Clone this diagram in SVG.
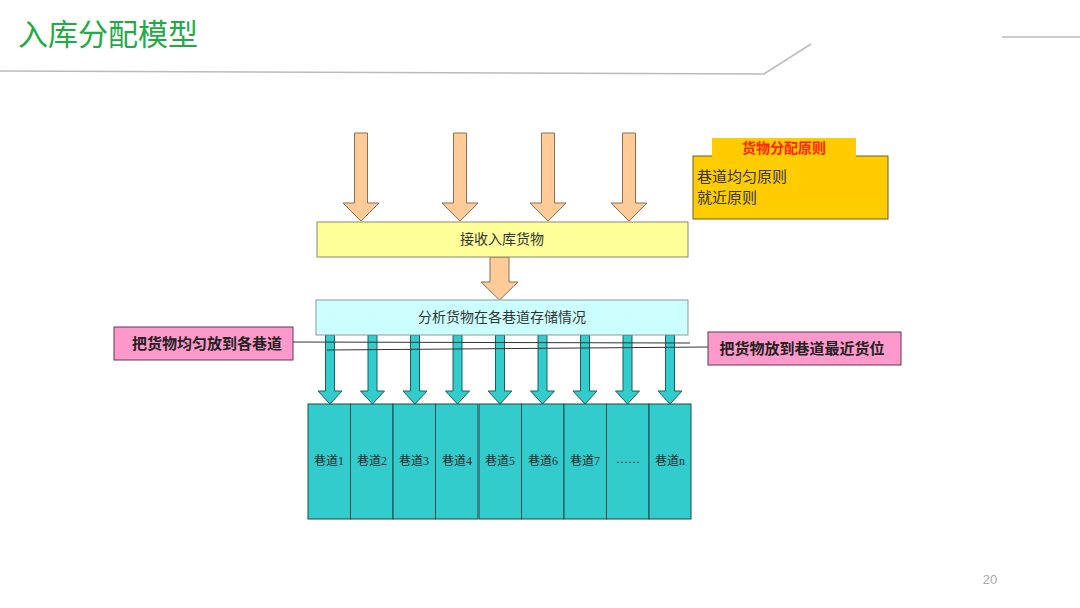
<svg xmlns="http://www.w3.org/2000/svg" xmlns:xlink="http://www.w3.org/1999/xlink" width="1080" height="608" viewBox="0 0 1080 608">
<style>
.serif{font-family:"Liberation Serif","Noto Sans CJK SC",serif;}
.orange{fill:#FFCC99;stroke:#8C6E55;stroke-width:1;}
.teal{fill:#33CCCC;stroke:#1E5E5E;stroke-width:1;}
.lane{fill:#33CCCC;stroke:#1E4A4A;stroke-width:1;}
.lanetxt{font-size:12px;fill:#2A2A2A;text-anchor:middle;}
.pink{fill:#FF99CC;stroke:#5A3A50;stroke-width:1;}
.pinktxt{font-size:15px;font-weight:bold;fill:#222;text-anchor:middle;}
.hdr{fill:none;stroke:#BBBBBB;stroke-width:1.5;}
</style>
<defs>
<path id="oarrow" d="M-6.5,133 H6.5 V203 H18 L0,221 L-18,203 H-6.5 Z"/>
<path id="tarrow" d="M-4.5,335 H4.5 V391 H12 L0,404 L-12,391 H-4.5 Z"/>
</defs>
<rect width="1080" height="608" fill="#FFFFFF"/>
<g id="header">
<text x="18" y="45" font-family="'Noto Sans CJK SC','Noto Sans',sans-serif" font-size="30" fill="#22AA44">入库分配模型</text>
<polyline class="hdr" points="0,71 764,74 811,44"/>
<line class="hdr" x1="1002" y1="37" x2="1080" y2="37"/>
<text x="990" y="584" font-family="'Liberation Sans',sans-serif" font-size="13" fill="#AAAAAA" text-anchor="middle">20</text>
</g>
<g id="connectors">
<use xlink:href="#oarrow" class="orange" transform="translate(361,0)"/>
<use xlink:href="#oarrow" class="orange" transform="translate(460,0)"/>
<use xlink:href="#oarrow" class="orange" transform="translate(548,0)"/>
<use xlink:href="#oarrow" class="orange" transform="translate(629,0)"/>
<path class="orange" d="M490,257 H509 V282 H518 L499.5,300 L481,282 H490 Z"/>
<use xlink:href="#tarrow" class="teal" transform="translate(330,0)"/>
<use xlink:href="#tarrow" class="teal" transform="translate(372.5,0)"/>
<use xlink:href="#tarrow" class="teal" transform="translate(415,0)"/>
<use xlink:href="#tarrow" class="teal" transform="translate(457.5,0)"/>
<use xlink:href="#tarrow" class="teal" transform="translate(500,0)"/>
<use xlink:href="#tarrow" class="teal" transform="translate(542.5,0)"/>
<use xlink:href="#tarrow" class="teal" transform="translate(585,0)"/>
<use xlink:href="#tarrow" class="teal" transform="translate(627.5,0)"/>
<use xlink:href="#tarrow" class="teal" transform="translate(670,0)"/>
<line x1="293" y1="342" x2="690" y2="343" stroke="#333" stroke-width="1"/>
<line x1="327" y1="350" x2="708" y2="347" stroke="#333" stroke-width="1"/>
</g>
<g id="receive">
<rect x="317" y="222" width="371" height="35" fill="#FFFF99" stroke="#8A8A6A" stroke-width="1"/>
<text class="serif" x="502" y="244" font-size="14" fill="#333" text-anchor="middle">接收入库货物</text>
</g>
<g id="analyze">
<rect x="316" y="300" width="372" height="35" fill="#CCFFFF" stroke="#8A9A9A" stroke-width="1"/>
<text class="serif" x="502" y="322" font-size="14" fill="#333" text-anchor="middle">分析货物在各巷道存储情况</text>
</g>
<g id="principles">
<rect x="693" y="156" width="195" height="63" fill="#FFCC00" stroke="#6E5E1E" stroke-width="1"/>
<rect x="712" y="138" width="144" height="19" fill="#FFCC00"/>
<text class="serif" x="784" y="153" font-size="14" font-weight="bold" fill="#FF2200" text-anchor="middle">货物分配原则</text>
<text class="serif" x="697" y="182" font-size="15" fill="#333">巷道均匀原则</text>
<text class="serif" x="697" y="203" font-size="15" fill="#333">就近原则</text>
</g>
<g id="even">
<rect class="pink" x="114" y="327" width="179" height="33"/>
<text class="serif pinktxt" x="207" y="349">把货物均匀放到各巷道</text>
</g>
<g id="nearest">
<rect class="pink" x="708" y="332" width="193" height="33"/>
<text class="serif pinktxt" x="802" y="354">把货物放到巷道最近货位</text>
</g>
<g id="lanes">
<rect class="lane" x="308" y="404" width="42.5" height="115"/>
<rect class="lane" x="350.5" y="404" width="42.5" height="115"/>
<rect class="lane" x="393" y="404" width="42.5" height="115"/>
<rect class="lane" x="435.5" y="404" width="42.5" height="115"/>
<rect class="lane" x="479" y="404" width="42.5" height="115"/>
<rect class="lane" x="521.5" y="404" width="42.5" height="115"/>
<rect class="lane" x="564" y="404" width="42.5" height="115"/>
<rect class="lane" x="606.5" y="404" width="42.5" height="115"/>
<rect class="lane" x="649" y="404" width="42" height="115"/>
<text class="serif lanetxt" x="329" y="465">巷道1</text>
<text class="serif lanetxt" x="372" y="465">巷道2</text>
<text class="serif lanetxt" x="414" y="465">巷道3</text>
<text class="serif lanetxt" x="457" y="465">巷道4</text>
<text class="serif lanetxt" x="500" y="465">巷道5</text>
<text class="serif lanetxt" x="543" y="465">巷道6</text>
<text class="serif lanetxt" x="585" y="465">巷道7</text>
<text class="serif lanetxt" x="628" y="463">……</text>
<text class="serif lanetxt" x="670" y="465">巷道n</text>
</g>
</svg>
